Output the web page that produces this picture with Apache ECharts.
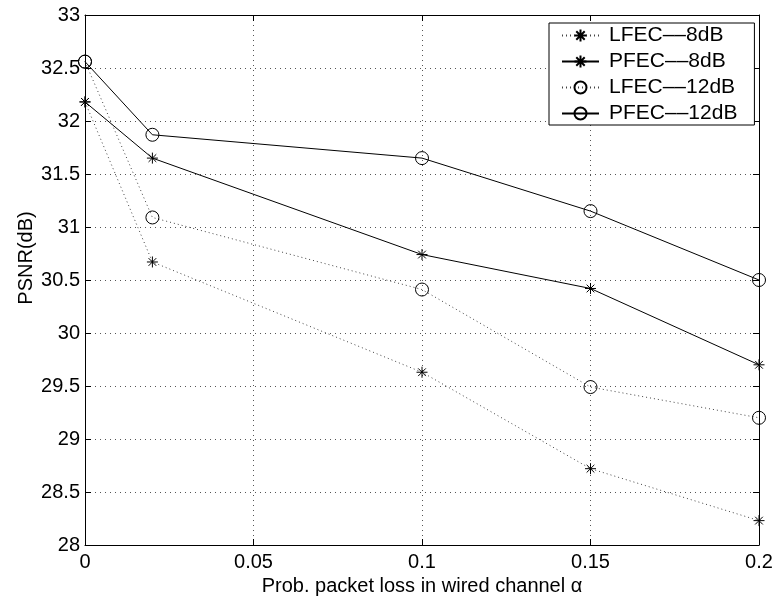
<!DOCTYPE html>
<html><head><meta charset="utf-8">
<script src="https://cdn.jsdelivr.net/npm/echarts/dist/echarts.min.js"></script>
<style>html,body{margin:0;padding:0;background:#fff}#c{width:778px;height:602px}</style>
</head><body><div id="c"></div>
<script>
const xValues = [0, 0.02, 0.1, 0.15, 0.2];
const lfec8 = [32.18, 30.67, 29.63, 28.72, 28.23];
const pfec8 = [32.18, 31.65, 30.74, 30.42, 29.70];
const lfec12 = [32.56, 31.09, 30.41, 29.49, 29.20];
const pfec12 = [32.56, 31.87, 31.65, 31.15, 30.50];
const seriesNames = ['LFEC\u2013\u20138dB', 'PFEC\u2013\u20138dB', 'LFEC\u2013\u201312dB', 'PFEC\u2013\u201312dB'];
const xTickLabels = ['0', '0.05', '0.1', '0.15', '0.2'];
const yTickLabels = ['28', '28.5', '29', '29.5', '30', '30.5', '31', '31.5', '32', '32.5', '33'];
const xLabel = 'Prob. packet loss in wired channel \u03b1';
const yLabel = 'PSNR(dB)';

const FONT = 'Liberation Sans, Arial, Helvetica, sans-serif';
const STAR = 'path://M10,0L10,20M0,10L20,10M3,3L17,17M3,17L17,3';

function mk(name, vals, dotted, star) {
  return {
    name: name, type: 'line',
    data: xValues.map((x, i) => [x, vals[i]]),
    symbol: star ? STAR : 'circle',
    symbolSize: star ? 11 : 13,
    showAllSymbol: true,
    itemStyle: { color: 'rgba(0,0,0,0)', borderColor: '#000', borderWidth: 1 },
    lineStyle: { color: dotted ? '#444' : '#000', width: 1, type: dotted ? [1, 3] : 'solid' },
    emphasis: { disabled: true },
    animation: false
  };
}

const chart = echarts.init(document.getElementById('c'), null, { renderer: 'canvas' });
const axisCommon = {
  axisLine: { show: true, onZero: false, lineStyle: { color: '#000', width: 1 } },
  axisTick: { show: true, inside: true, length: 6, lineStyle: { color: '#000', width: 1 } }
};
chart.setOption({
  animation: false,
  backgroundColor: '#fff',
  textStyle: { fontFamily: FONT },
  grid: { left: 85, right: 19, top: 15, bottom: 57, containLabel: false },
  xAxis: [
    Object.assign({
      type: 'value', min: 0, max: 0.2, interval: 0.05, position: 'bottom',
      axisLabel: { fontSize: 20, color: '#000', margin: 7, fontFamily: FONT,
        formatter: v => xTickLabels[Math.round(v / 0.05)] },
      splitLine: { show: true, lineStyle: { color: '#555', width: 1, type: [1, 4] } },
      name: xLabel, nameLocation: 'middle', nameGap: 27,
      nameTextStyle: { fontSize: 20, color: '#000', fontFamily: FONT }
    }, axisCommon),
    Object.assign({
      type: 'value', min: 0, max: 0.2, interval: 0.05, position: 'top',
      axisLabel: { show: false }, splitLine: { show: false }
    }, axisCommon)
  ],
  yAxis: [
    Object.assign({
      type: 'value', min: 28, max: 33, interval: 0.5, position: 'left',
      axisLabel: { fontSize: 20, color: '#000', margin: 5, fontFamily: FONT,
        formatter: v => yTickLabels[Math.round((v - 28) / 0.5)] },
      splitLine: { show: true, lineStyle: { color: '#555', width: 1, type: [1, 4] } }
    }, axisCommon),
    Object.assign({
      type: 'value', min: 28, max: 33, interval: 0.5, position: 'right',
      axisLabel: { show: false }, splitLine: { show: false }
    }, axisCommon)
  ],
  legend: {
    left: 549, top: 23, orient: 'vertical',
    backgroundColor: '#fff', borderColor: '#000', borderWidth: 1, borderRadius: 0,
    padding: [2, 17, 1, 12], itemGap: 5, itemWidth: 37, itemHeight: 15,
    textStyle: { fontSize: 21, color: '#000', lineHeight: 21, fontFamily: FONT, padding: [0, 0, 0, 5] },
    data: seriesNames, selectedMode: false
  },
  graphic: [{
    type: 'text', x: 26, y: 258, rotation: Math.PI / 2,
    style: { text: yLabel, fontSize: 20, fill: '#000', font: '20px ' + FONT,
      textAlign: 'center', textVerticalAlign: 'middle' }
  }],
  series: [
    mk(seriesNames[0], lfec8, true, true),
    mk(seriesNames[1], pfec8, false, true),
    mk(seriesNames[2], lfec12, true, false),
    mk(seriesNames[3], pfec12, false, false)
  ]
});
</script>
</body></html>
